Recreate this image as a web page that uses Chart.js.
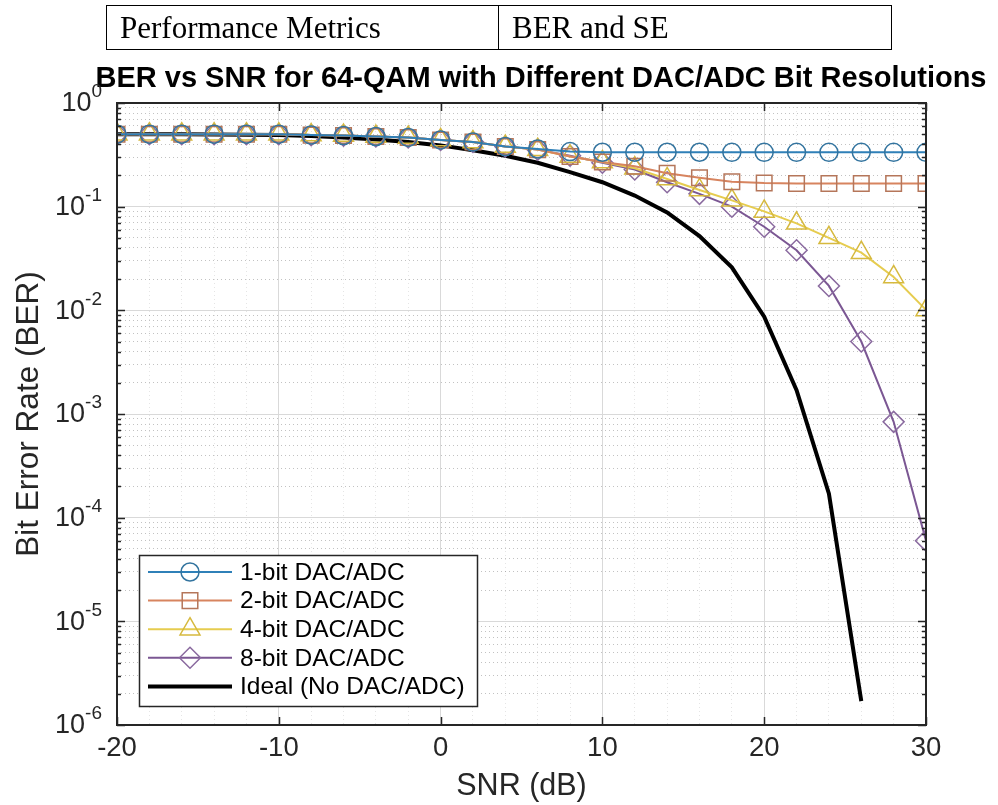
<!DOCTYPE html>
<html>
<head>
<meta charset="utf-8">
<script src="https://cdn.jsdelivr.net/npm/chart.js@4.4.0/dist/chart.umd.min.js"></script>
<style>
  html, body { margin: 0; padding: 0; background: #fff; }
  #wrap { position: relative; width: 998px; height: 805px; }
  #myChart { position: absolute; left: 0; top: 0; }
  #meta { position: absolute; left: 106px; top: 5px; width: 786px; height: 45px;
          border: 1.5px solid #000; box-sizing: border-box; display: flex;
          font-family: "Liberation Serif", "Times New Roman", serif; font-size: 31px; color: #000; }
  #meta div { display: flex; align-items: center; padding-left: 13px; box-sizing: border-box; }
  #meta .c1 { width: 392px; border-right: 1.5px solid #000; }
</style>
</head>
<body>
<div id="wrap">
  <canvas id="myChart" width="998" height="805"></canvas>
  <div id="meta"><div class="c1">Performance Metrics</div><div>BER and SE</div></div>
</div>
<script>
// SNR points (dB), markers every 2 dB
let snr = [-20, -18, -16, -14, -12, -10, -8, -6, -4, -2, 0, 2, 4, 6, 8, 10, 12, 14, 16, 18, 20, 22, 24, 26, 28, 30];
let ber_1bit = [0.50, 0.50, 0.50, 0.50, 0.50, 0.50, 0.49, 0.485, 0.475, 0.465, 0.44, 0.42, 0.38, 0.36, 0.34, 0.335, 0.335, 0.335, 0.335, 0.334, 0.334, 0.334, 0.334, 0.334, 0.334, 0.334];
let ber_2bit = [0.50, 0.50, 0.50, 0.50, 0.50, 0.50, 0.49, 0.485, 0.475, 0.465, 0.44, 0.42, 0.38, 0.355, 0.305, 0.27, 0.245, 0.21, 0.19, 0.174, 0.169, 0.167, 0.167, 0.167, 0.167, 0.167];
let ber_4bit = [0.50, 0.50, 0.50, 0.50, 0.50, 0.50, 0.49, 0.485, 0.475, 0.465, 0.44, 0.42, 0.38, 0.355, 0.305, 0.27, 0.235, 0.185, 0.145, 0.115, 0.09, 0.069, 0.05, 0.036, 0.021, 0.0101];
let ber_8bit = [0.50, 0.50, 0.50, 0.50, 0.50, 0.50, 0.49, 0.485, 0.475, 0.465, 0.44, 0.42, 0.38, 0.355, 0.31, 0.265, 0.228, 0.172, 0.133, 0.10, 0.064, 0.038, 0.0172, 0.005, 0.00084, 0.00006];
// ideal curve stops at 26 dB (no errors counted above)
let snr_ideal = [-20, -18, -16, -14, -12, -10, -8, -6, -4, -2, 0, 2, 4, 6, 8, 10, 12, 14, 16, 18, 20, 22, 24, 26];
let ber_ideal = [0.50, 0.50, 0.499, 0.497, 0.494, 0.49, 0.48, 0.465, 0.445, 0.42, 0.39, 0.35, 0.31, 0.265, 0.215, 0.172, 0.128, 0.088, 0.052, 0.026, 0.0087, 0.0017, 0.00017, 0.0000017];

let series_labels = ['1-bit DAC/ADC', '2-bit DAC/ADC', '4-bit DAC/ADC', '8-bit DAC/ADC', 'Ideal (No DAC/ADC)'];
let x_ticks = [-20, -10, 0, 10, 20, 30];
let y_decades = [-6, -5, -4, -3, -2, -1, 0];
let chart_title = 'BER vs SNR for 64-QAM with Different DAC/ADC Bit Resolutions';

const FONT = '"Liberation Sans", Arial, Helvetica, sans-serif';
const AXIS_COL = '#262626';

function pts(xs, ys) {
  return ys.map(function (v, i) { return {x: xs[i], y: v}; });
}

function markerSet(label, ys, line, mark, style, r) {
  return {
    label: label,
    data: pts(snr, ys),
    borderColor: line,
    borderWidth: 2,
    pointStyle: style,
    pointRadius: r,
    pointBorderColor: mark,
    pointBorderWidth: 1.5,
    pointBackgroundColor: 'rgba(0,0,0,0)',
    tension: 0
  };
}

// MATLAB-like box, tick marks, decade labels, title and legend
const matlabAxes = {
  id: 'matlabAxes',
  afterDatasetsDraw(chart) {
    const ctx = chart.ctx, a = chart.chartArea;
    const xs = chart.scales.x, ys = chart.scales.y;
    ctx.save();
    ctx.strokeStyle = AXIS_COL;
    ctx.lineWidth = 1.5;
    y_decades.forEach(function (e) {
      for (let m = 1; m <= 9; m++) {
        const v = m * Math.pow(10, e);
        if (v > 1) break;
        const py = Math.round(ys.getPixelForValue(v)) + 0.5;
        const len = m === 1 ? 8 : 4;
        ctx.beginPath();
        ctx.moveTo(a.left, py); ctx.lineTo(a.left + len, py);
        ctx.moveTo(a.right, py); ctx.lineTo(a.right - len, py);
        ctx.stroke();
      }
    });
    x_ticks.forEach(function (t) {
      const px = Math.round(xs.getPixelForValue(t)) + 0.5;
      ctx.beginPath();
      ctx.moveTo(px, a.bottom); ctx.lineTo(px, a.bottom - 8);
      ctx.moveTo(px, a.top); ctx.lineTo(px, a.top + 8);
      ctx.stroke();
    });
    ctx.lineWidth = 2;
    ctx.strokeRect(a.left, a.top, a.right - a.left, a.bottom - a.top);
    ctx.restore();
  },
  afterDraw(chart) {
    const ctx = chart.ctx, a = chart.chartArea;
    const ys = chart.scales.y;
    ctx.save();
    // title, centred a little right of the axes like the figure
    ctx.fillStyle = '#000';
    ctx.font = 'bold 29px ' + FONT;
    ctx.textAlign = 'center';
    ctx.textBaseline = 'alphabetic';
    ctx.fillText(chart_title, 541, 87);

    // y tick labels 10^n
    ctx.fillStyle = AXIS_COL;
    ctx.textBaseline = 'middle';
    y_decades.forEach(function (e) {
      const py = ys.getPixelForValue(Math.pow(10, e));
      const ex = String(e);
      ctx.font = '19px ' + FONT;
      const ew = ctx.measureText(ex).width;
      const right = a.left - 15;
      ctx.textAlign = 'left';
      ctx.fillText(ex, right - ew, py - 11);
      ctx.font = '27px ' + FONT;
      ctx.textAlign = 'right';
      ctx.fillText('10', right - ew, py + 1);
    });

    // legend
    const bx = 139, by = 555, bw = 338, bh = 151;
    ctx.fillStyle = '#fff';
    ctx.fillRect(bx, by, bw, bh);
    ctx.strokeStyle = AXIS_COL;
    ctx.lineWidth = 1.5;
    ctx.strokeRect(bx + 0.5, by + 0.5, bw, bh);
    chart.data.datasets.forEach(function (ds, i) {
      const ry = by + 17 + i * 28.6;
      ctx.strokeStyle = ds.borderColor;
      ctx.lineWidth = ds.borderWidth;
      ctx.beginPath();
      ctx.moveTo(bx + 9, ry); ctx.lineTo(bx + 93, ry);
      ctx.stroke();
      if (ds.pointRadius > 0) {
        ctx.strokeStyle = ds.pointBorderColor;
        ctx.fillStyle = 'rgba(0,0,0,0)';
        ctx.lineWidth = ds.pointBorderWidth;
        Chart.helpers.drawPoint(ctx, {pointStyle: ds.pointStyle, radius: ds.pointRadius, rotation: 0, borderWidth: ds.pointBorderWidth}, bx + 51, ry);
      }
      ctx.fillStyle = '#000';
      ctx.font = '24.5px ' + FONT;
      ctx.textAlign = 'left';
      ctx.textBaseline = 'middle';
      ctx.fillText(ds.label, bx + 101, ry + 1);
    });
    ctx.restore();
  }
};

var config = {
  type: 'line',
  data: {
    datasets: [
      markerSet(series_labels[0], ber_1bit, '#2f80b8', '#33749f', 'circle', 9),
      markerSet(series_labels[1], ber_2bit, '#d7845f', '#b5765a', 'rect', 11),
      markerSet(series_labels[2], ber_4bit, '#e6cc4f', '#d6b93e', 'triangle', 11.5),
      markerSet(series_labels[3], ber_8bit, '#7b5793', '#8a6a9f', 'rectRot', 10.5),
      {
        label: series_labels[4],
        data: pts(snr_ideal, ber_ideal),
        borderColor: '#000',
        borderWidth: 4,
        pointRadius: 0,
        tension: 0
      }
    ]
  },
  options: {
    responsive: false,
    animation: false,
    devicePixelRatio: 1,
    layout: { padding: { top: 103, right: 72, bottom: 0, left: 0 } },
    plugins: {
      legend: { display: false },
      tooltip: { enabled: false },
      title: { display: false }
    },
    scales: {
      x: {
        type: 'linear',
        min: -20,
        max: 30,
        afterBuildTicks: function (axis) {
          let t = [];
          for (let v = -20; v <= 30; v += 2) t.push({value: v});
          axis.ticks = t;
        },
        afterFit: function (axis) { axis.height = 80; },
        ticks: {
          autoSkip: false,
          maxRotation: 0,
          padding: 7,
          color: AXIS_COL,
          font: { family: FONT, size: 27.5 },
          callback: function (v) { return x_ticks.indexOf(v) >= 0 ? String(v) : ''; }
        },
        grid: {
          drawTicks: false,
          lineWidth: 1,
          color: function (c) {
            if (!c.tick) return '#d9d9d9';
            return c.tick.value % 10 === 0 ? '#d9d9d9' : 'rgba(0,0,0,0.10)';
          }
        },
        border: {
          display: false,
          dash: function (c) {
            if (!c.tick) return [];
            return c.tick.value % 10 === 0 ? [] : [1, 3];
          }
        },
        title: {
          display: true,
          text: 'SNR (dB)',
          color: AXIS_COL,
          font: { family: FONT, size: 30.5 },
          padding: { top: 0, bottom: 0 }
        }
      },
      y: {
        type: 'logarithmic',
        min: 1e-6,
        max: 1,
        afterBuildTicks: function (axis) {
          let t = [];
          y_decades.forEach(function (e) {
            for (let m = 1; m <= 9; m++) {
              const v = m * Math.pow(10, e);
              if (v > 1) break;
              t.push({value: v, major: m === 1});
            }
          });
          axis.ticks = t;
        },
        afterFit: function (axis) { axis.width = 117; },
        ticks: { display: false },
        grid: {
          drawTicks: false,
          lineWidth: 1,
          color: function (c) {
            if (!c.tick) return '#d9d9d9';
            return c.tick.major ? '#d9d9d9' : 'rgba(0,0,0,0.24)';
          }
        },
        border: {
          display: false,
          dash: function (c) {
            if (!c.tick) return [];
            return c.tick.major ? [] : [1, 3];
          }
        },
        title: {
          display: true,
          text: 'Bit Error Rate (BER)',
          color: AXIS_COL,
          font: { family: FONT, size: 31.5 },
          padding: { top: 10, bottom: 0 }
        }
      }
    }
  },
  plugins: [matlabAxes]
};

window.onload = function () {
  var ctx = document.getElementById('myChart').getContext('2d');
  window.berChart = new Chart(ctx, config);
};
</script>
</body>
</html>
